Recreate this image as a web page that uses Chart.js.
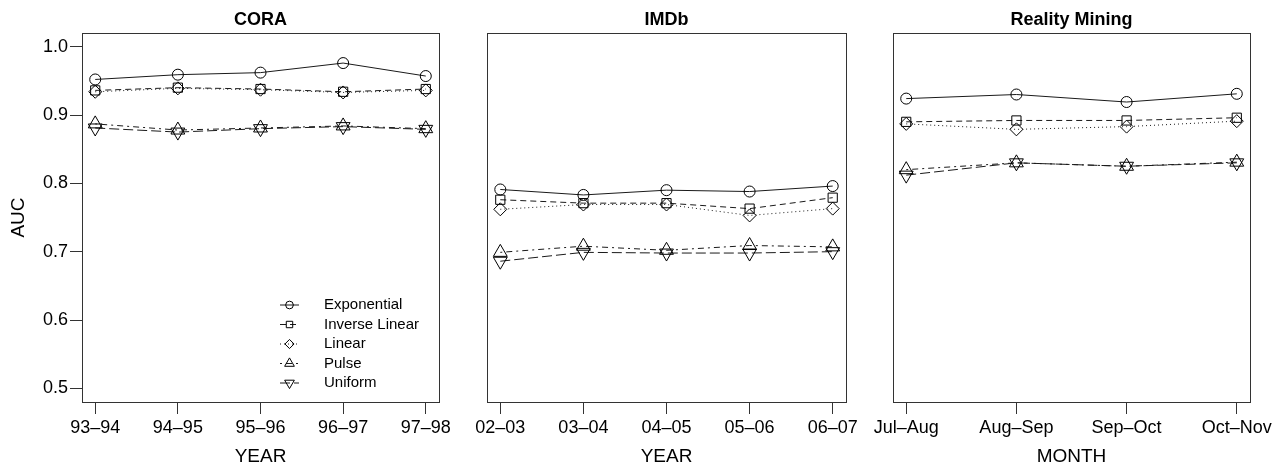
<!DOCTYPE html>
<html>
<head>
<meta charset="utf-8">
<script src="https://cdn.jsdelivr.net/npm/chart.js@4.4.0/dist/chart.umd.min.js"></script>
<style>
  body { margin: 0; background: #fff; width: 1279px; height: 468px; position: relative; overflow: hidden; }
  .panel { position: absolute; top: 0; height: 468px; }
</style>
</head>
<body>
<div class="panel" style="left:0;width:474px"><canvas id="cora"></canvas></div>
<div class="panel" style="left:450px;width:431px"><canvas id="imdb"></canvas></div>
<div class="panel" style="left:855px;width:424px"><canvas id="reality"></canvas></div>
<script>
// categories
var coraYears = ["93–94", "94–95", "95–96", "96–97", "97–98"];
var imdbYears = ["02–03", "03–04", "04–05", "05–06", "06–07"];
var realityMonths = ["Jul–Aug", "Aug–Sep", "Sep–Oct", "Oct–Nov"];

// AUC values, CORA
var coraExponential   = [0.952, 0.959, 0.962, 0.976, 0.957];
var coraInverseLinear = [0.936, 0.940, 0.938, 0.934, 0.938];
var coraLinear        = [0.934, 0.939, 0.937, 0.933, 0.936];
var coraPulse         = [0.887, 0.878, 0.881, 0.884, 0.880];
var coraUniform       = [0.881, 0.875, 0.880, 0.883, 0.879];

// AUC values, IMDb
var imdbExponential   = [0.791, 0.783, 0.790, 0.788, 0.796];
var imdbInverseLinear = [0.776, 0.771, 0.771, 0.763, 0.779];
var imdbLinear        = [0.762, 0.769, 0.769, 0.753, 0.763];
var imdbPulse         = [0.699, 0.708, 0.702, 0.709, 0.707];
var imdbUniform       = [0.686, 0.699, 0.698, 0.698, 0.700];

// AUC values, Reality Mining
var realityExponential   = [0.924, 0.930, 0.919, 0.931];
var realityInverseLinear = [0.890, 0.892, 0.892, 0.896];
var realityLinear        = [0.887, 0.879, 0.883, 0.891];
var realityPulse         = [0.820, 0.830, 0.825, 0.831];
var realityUniform       = [0.812, 0.830, 0.825, 0.830];

var yTicks = [0.5, 0.6, 0.7, 0.8, 0.9, 1.0];

var fontFamily = "'Liberation Sans', Arial, Helvetica, sans-serif";
Chart.defaults.font.family = fontFamily;
Chart.defaults.color = '#000';

// line type per decay function
var styles = [
  { label: 'Exponential',    pointStyle: 'circle',  pointRotation: 0,   pointRadius: 5.5, borderDash: [] },
  { label: 'Inverse Linear', pointStyle: 'rect',    pointRotation: 0,   pointRadius: 6.5, borderDash: [6, 4] },
  { label: 'Linear',         pointStyle: 'rectRot', pointRotation: 0,   pointRadius: 6.5, borderDash: [1, 3] },
  { label: 'Pulse',          pointStyle: 'triangle',pointRotation: 0,   pointRadius: 8,   borderDash: [2, 4, 6, 4] },
  { label: 'Uniform',        pointStyle: 'triangle',pointRotation: 180, pointRadius: 8,   borderDash: [10, 4] }
];

function makeDatasets(series) {
  return series.map(function(values, i) {
    var s = styles[i];
    return {
      label: s.label,
      data: values.map(function(v, j) { return { x: j + 1, y: v }; }),
      borderColor: '#1a1a1a',
      borderWidth: 1,
      borderDash: s.borderDash,
      pointStyle: s.pointStyle,
      pointRotation: s.pointRotation,
      pointRadius: s.pointRadius,
      pointHoverRadius: s.pointRadius,
      pointBorderColor: '#000',
      pointBorderWidth: 1,
      pointBackgroundColor: 'rgba(0,0,0,0)',
      tension: 0,
      fill: false
    };
  });
}

// frame around the plotting region
var boxPlugin = {
  id: 'box',
  afterDatasetsDraw: function(chart) {
    var a = chart.chartArea, ctx = chart.ctx;
    ctx.save();
    ctx.strokeStyle = '#333';
    ctx.lineWidth = 1;
    ctx.strokeRect(Math.round(a.left) + 0.5, Math.round(a.top) + 0.5,
                   Math.round(a.right - a.left), Math.round(a.bottom - a.top));
    ctx.restore();
  }
};

// R-style key: line segment, symbol, text
var seriesKey = {
  id: 'seriesKey',
  afterDraw: function(chart, args, opts) {
    if (!opts.display) return;
    var ctx = chart.ctx, a = chart.chartArea;
    chart.data.datasets.forEach(function(ds, i) {
      var y = a.bottom - 97 + i * 19.5;
      var x0 = a.right - 159;
      ctx.save();
      ctx.strokeStyle = ds.borderColor;
      ctx.lineWidth = 1;
      ctx.setLineDash(ds.borderDash || []);
      ctx.beginPath();
      ctx.moveTo(x0, y);
      ctx.lineTo(x0 + 19, y);
      ctx.stroke();
      ctx.setLineDash([]);
      ctx.fillStyle = 'rgba(0,0,0,0)';
      ctx.strokeStyle = '#000';
      Chart.helpers.drawPoint(ctx, {
        pointStyle: ds.pointStyle, rotation: ds.pointRotation,
        radius: ds.pointRadius * 0.7, borderWidth: 1
      }, x0 + 9.5, y);
      ctx.fillStyle = '#000';
      ctx.font = '15px ' + fontFamily;
      ctx.textBaseline = 'middle';
      ctx.textAlign = 'left';
      ctx.fillText(ds.label, a.right - 115, y);
      ctx.restore();
    });
  }
};

function makePanel(id, title, labels, series, xTitle, showY, padLeft, padRight, showKey) {
  var n = labels.length;
  var ext = 0.04 * (n - 1);
  new Chart(document.getElementById(id), {
    type: 'line',
    data: { datasets: makeDatasets(series) },
    plugins: [boxPlugin, seriesKey],
    options: {
      responsive: true,
      maintainAspectRatio: false,
      animation: false,
      layout: { padding: { left: padLeft, right: padRight, top: 0, bottom: 0 } },
      plugins: {
        legend: { display: false },
        tooltip: { enabled: false },
        seriesKey: { display: showKey },
        title: {
          display: true,
          text: title,
          fullSize: false,
          color: '#000',
          font: { size: 18, weight: 'bold', lineHeight: 1 },
          padding: { top: 11, bottom: 4 }
        }
      },
      scales: {
        x: {
          type: 'linear',
          min: 1 - ext,
          max: n + ext,
          afterBuildTicks: function(s) {
            s.ticks = labels.map(function(_, i) { return { value: i + 1 }; });
          },
          afterFit: function(s) { s.height = 66; },
          ticks: {
            autoSkip: false,
            maxRotation: 0,
            padding: 3,
            color: '#000',
            font: { size: 18 },
            callback: function(v, i) { return labels[i]; }
          },
          grid: { drawOnChartArea: false, tickLength: 12, color: '#333' },
          border: { display: false },
          title: {
            display: true, text: xTitle, color: '#000',
            font: { size: 19 }, padding: { top: 0, bottom: 0 }
          }
        },
        y: {
          display: showY,
          min: 0.48,
          max: 1.02,
          afterBuildTicks: function(s) {
            s.ticks = yTicks.map(function(v) { return { value: v }; });
          },
          afterFit: function(s) { s.width = showY ? 82 : 0; },
          ticks: {
            padding: 2,
            color: '#000',
            font: { size: 18 },
            callback: function(v) { return v.toFixed(1); }
          },
          grid: { drawOnChartArea: false, tickLength: 12, color: '#333' },
          border: { display: false },
          title: {
            display: true, text: 'AUC', color: '#000',
            font: { size: 19 }, padding: { top: 7, bottom: 0 }
          }
        }
      }
    }
  });
}

makePanel('cora', 'CORA', coraYears,
  [coraExponential, coraInverseLinear, coraLinear, coraPulse, coraUniform],
  'YEAR', true, 0, 35, true);
makePanel('imdb', 'IMDb', imdbYears,
  [imdbExponential, imdbInverseLinear, imdbLinear, imdbPulse, imdbUniform],
  'YEAR', false, 37, 35, false);
makePanel('reality', 'Reality Mining', realityMonths,
  [realityExponential, realityInverseLinear, realityLinear, realityPulse, realityUniform],
  'MONTH', false, 38, 29, false);
</script>
</body>
</html>
